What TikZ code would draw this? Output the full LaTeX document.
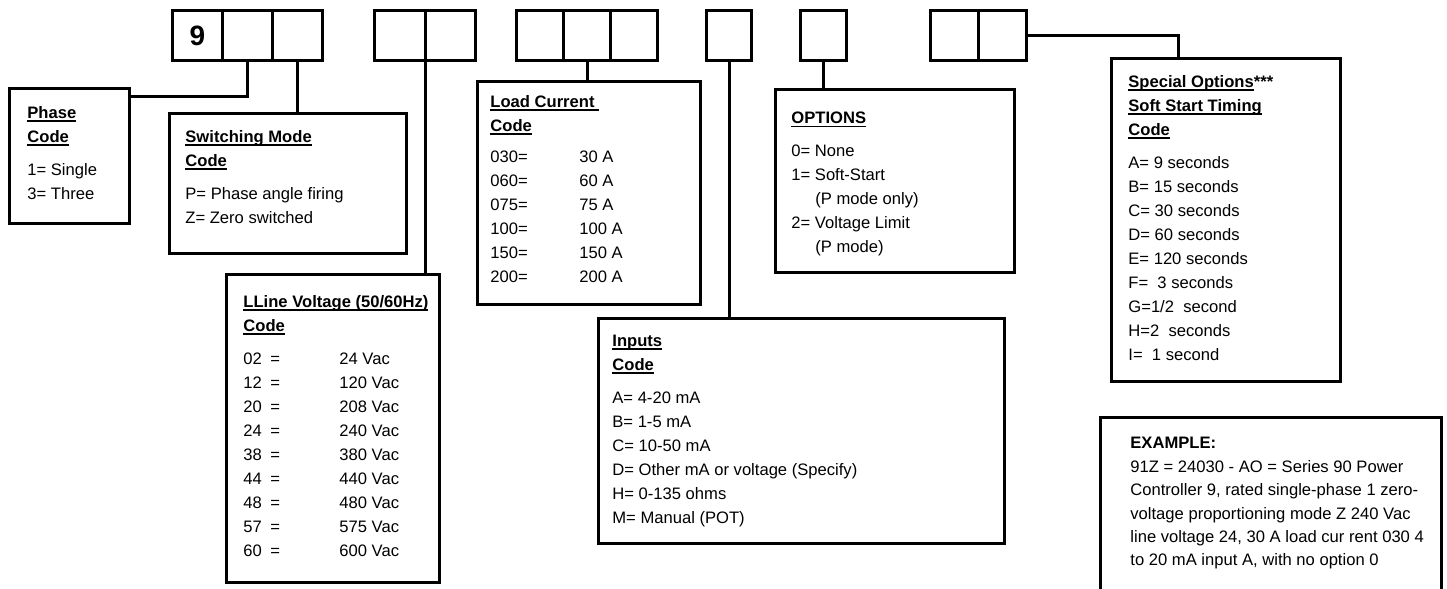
\documentclass[tikz,border=0pt]{standalone}
\usepackage{fontspec}
\setmainfont{Liberation Sans}
\usetikzlibrary{positioning}

% underlined bold heading
\newsavebox\hdbox
\newcommand{\hd}[1]{\sbox\hdbox{\bfseries #1}\rlap{\rule[-1.7pt]{\wd\hdbox}{0.9pt}}\usebox\hdbox}
\newcommand{\arow}[2]{\makebox[44.5pt][l]{#1}#2}
\newcommand{\vrow}[2]{\makebox[13.5pt][l]{#1}\makebox[34.5pt][l]{=}#2}

\tikzset{
  cell/.style = {draw, line width=1.5pt, minimum width=24pt, minimum height=25pt, inner sep=0pt, outer sep=0pt},
  frame/.style = {draw, line width=1.5pt, anchor=north west, inner sep=0pt, outer sep=0pt},
  body/.style = {anchor=north west, inner sep=0pt, align=left, font=\fontsize{8.3}{12}\selectfont},
  link/.style = {line width=1.5pt}
}

\begin{document}
\begin{tikzpicture}[x=0.5pt, y=-0.5pt]
  \clip (0,0) rectangle (1447,589);

  % code cells
  \node[cell, anchor=north west, minimum width=25pt, font=\fontsize{14}{16}\selectfont\bfseries] (code1) at (172.5,10.5) {9};
  \node[cell, minimum width=25pt] (code2) [right=0pt of code1] {};
  \node[cell, minimum width=25pt] (code3) [right=0pt of code2] {};
  \node[cell, anchor=north west, minimum width=25.25pt] (code4) at (374.5,10.5) {};
  \node[cell, minimum width=25.25pt] (code5) [right=0pt of code4] {};
  \node[cell, anchor=north west, minimum width=23.5pt] (code6) at (516.5,10.5) {};
  \node[cell, minimum width=23.5pt] (code7) [right=0pt of code6] {};
  \node[cell, minimum width=23.5pt] (code8) [right=0pt of code7] {};
  \node[cell, anchor=north west, minimum width=22.5pt] (code9) at (706.5,10.5) {};
  \node[cell, anchor=north west, minimum width=23pt] (code10) at (800.5,10.5) {};
  \node[cell, anchor=north west] (code11) at (930.5,10.5) {};
  \node[cell] (code12) [right=0pt of code11] {};

  % frames
  \node[frame, minimum width=60pt, minimum height=67.5pt] (phase) at (9.5,88.5) {};
  \node[frame, minimum width=118.5pt, minimum height=70pt] (switching) at (169.5,113.5) {};
  \node[frame, minimum width=106.5pt, minimum height=154pt] (linev) at (226.5,274.5) {};
  \node[frame, minimum width=111.5pt, minimum height=111.5pt] (load) at (477.5,81.5) {};
  \node[frame, minimum width=203pt, minimum height=112.5pt] (inputs) at (598.5,318.5) {};
  \node[frame, minimum width=119.5pt, minimum height=91.5pt] (options) at (775.5,89.5) {};
  \node[frame, minimum width=114.5pt, minimum height=161.5pt] (special) at (1111.5,58.5) {};
  \node[frame, minimum width=170.5pt, minimum height=100pt] (example) at (1100.5,417.5) {};

  % texts
  \node[body] (phasetxt) [below right=8.75pt and 8.75pt of phase.north west]
    {\hd{Phase}\\ \hd{Code}\\[4.5pt] 1= Single\\ 3= Three};
  \node[body] (switchingtxt) [below right=8.25pt and 7.75pt of switching.north west]
    {\hd{Switching Mode}\\ \hd{Code}\\[4.5pt] P= Phase angle firing\\ Z= Zero switched};
  \node[body] (linevtxt) [below right=10.25pt and 8.25pt of linev.north west]
    {\hd{LLine Voltage (50/60Hz)}\\ \hd{Code}\\[4.5pt]
     \vrow{02}{24 Vac}\\ \vrow{12}{120 Vac}\\ \vrow{20}{208 Vac}\\
     \vrow{24}{240 Vac}\\ \vrow{38}{380 Vac}\\ \vrow{44}{440 Vac}\\
     \vrow{48}{480 Vac}\\ \vrow{57}{575 Vac}\\ \vrow{60}{600 Vac}};
  \node[body] (loadtxt) [below right=6.75pt and 6.25pt of load.north west]
    {\hd{Load Current\ }\\ \hd{Code}\\[3.5pt]
     \arow{030=}{30 A}\\ \arow{060=}{60 A}\\ \arow{075=}{75 A}\\
     \arow{100=}{100 A}\\ \arow{150=}{150 A}\\ \arow{200=}{200 A}};
  \node[body] (inputstxt) [below right=8.25pt and 6.75pt of inputs.north west]
    {\hd{Inputs}\\ \hd{Code}\\[4.5pt] A= 4-20 mA\\ B= 1-5 mA\\ C= 10-50 mA\\
     D= Other mA or voltage (Specify)\\ H= 0-135 ohms\\ M= Manual (POT)};
  \node[body] (optionstxt) [below right=11.25pt and 7.75pt of options.north west]
    {\hd{OPTIONS}\\[4.5pt] 0= None\\ 1= Soft-Start\\ \hspace*{12pt}(P mode only)\\
     2= Voltage Limit\\ \hspace*{12pt}(P mode)};
  \node[body] (specialtxt) [below right=8.25pt and 8.25pt of special.north west]
    {\hd{Special Options}\textbf{***}\\ \hd{Soft Start Timing}\\ \hd{Code}\\[4.5pt]
     A= 9 seconds\\ B= 15 seconds\\ C= 30 seconds\\ D= 60 seconds\\
     E= 120 seconds\\ F=\ \ 3 seconds\\ G=1/2\ \ second\\ H=2\ \ seconds\\ I=\ \ 1 second};
  \node[body, font=\fontsize{8.3}{11.7}\selectfont] (exampletxt) [below right=9.75pt and 14.75pt of example.north west]
    {\textbf{EXAMPLE:}\\ 91Z = 24030 - AO = Series 90 Power\\
     Controller 9, rated single-phase 1 zero-\\ voltage proportioning mode Z 240 Vac\\
     line voltage 24, 30 A load cur rent 030 4\\ to 20 mA input A, with no option 0};

  % connectors
  \draw[link] (code2.south) |- ([yshift=-3.75pt]phase.north east);
  \draw[link] (code3.south) -- (code3.south |- switching.north);
  \draw[link] (code4.south east) -- (code4.south east |- linev.north);
  \draw[link] (code7.south) -- (code7.south |- load.north);
  \draw[link] (code9.south) -- (code9.south |- inputs.north);
  \draw[link] (code10.south) -- (code10.south |- options.north);
  \draw[link] (code12.east) -| ([xshift=33.25pt]special.north west);
\end{tikzpicture}
\end{document}
